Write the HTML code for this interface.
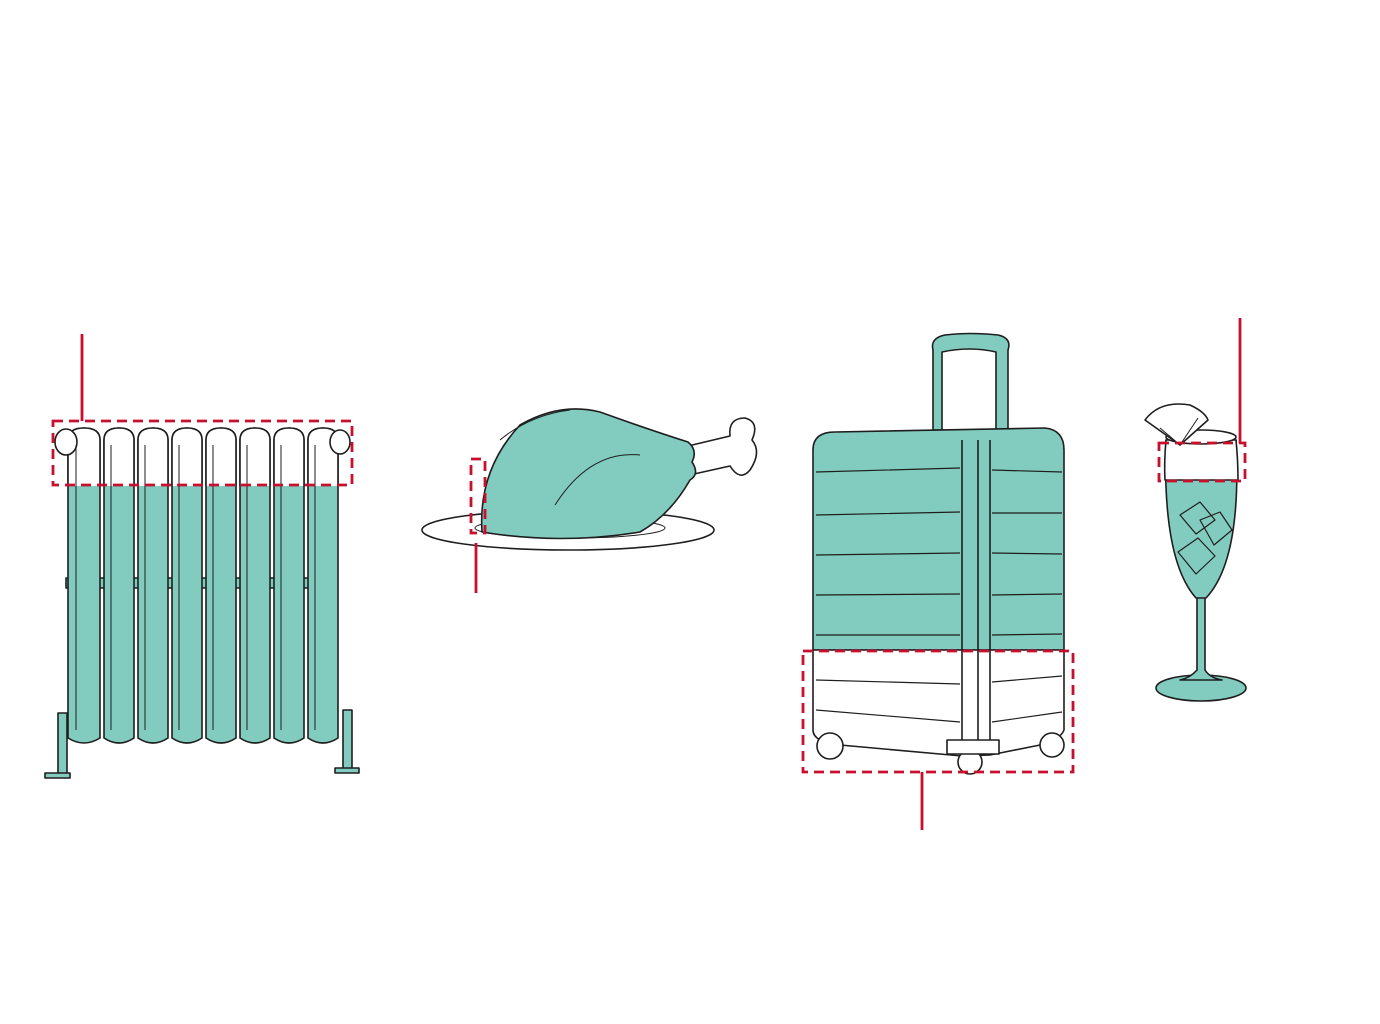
<!DOCTYPE html>
<html><head><meta charset="utf-8"><style>
html,body{margin:0;padding:0;background:#fff;}
svg{display:block;}
</style></head><body>
<svg width="1380" height="1024" viewBox="0 0 1380 1024" xmlns="http://www.w3.org/2000/svg">
<defs>
<clipPath id="radTop"><rect x="0" y="0" width="1380" height="486"/></clipPath>
</defs>
<g stroke="#1e1e1e" stroke-width="1.6" stroke-linejoin="round">
<!-- Radiator -->
<rect x="58" y="713" width="9" height="62" fill="#82cbbf"/>
<rect x="45" y="773" width="25" height="5" fill="#82cbbf"/>
<rect x="343" y="710" width="9" height="60" fill="#82cbbf"/>
<rect x="335" y="768" width="24" height="5" fill="#82cbbf"/>
<rect x="66" y="578" width="270" height="10" fill="#82cbbf"/>
<g fill="#82cbbf">
<path d="M68 440 Q68 428 84 428 Q100 428 100 440 L100 738 Q84 748 68 738 Z"/>
<path d="M104 440 Q104 428 119 428 Q134 428 134 440 L134 738 Q119 748 104 738 Z"/>
<path d="M138 440 Q138 428 153 428 Q168 428 168 440 L168 738 Q153 748 138 738 Z"/>
<path d="M172 440 Q172 428 187 428 Q202 428 202 440 L202 738 Q187 748 172 738 Z"/>
<path d="M206 440 Q206 428 221 428 Q236 428 236 440 L236 738 Q221 748 206 738 Z"/>
<path d="M240 440 Q240 428 255 428 Q270 428 270 440 L270 738 Q255 748 240 738 Z"/>
<path d="M274 440 Q274 428 289 428 Q304 428 304 440 L304 738 Q289 748 274 738 Z"/>
<path d="M308 440 Q308 428 323 428 Q338 428 338 440 L338 738 Q323 748 308 738 Z"/>
</g>
<g fill="#fff" clip-path="url(#radTop)">
<path d="M68 440 Q68 428 84 428 Q100 428 100 440 L100 738 L68 738 Z"/>
<path d="M104 440 Q104 428 119 428 Q134 428 134 440 L134 738 L104 738 Z"/>
<path d="M138 440 Q138 428 153 428 Q168 428 168 440 L168 738 L138 738 Z"/>
<path d="M172 440 Q172 428 187 428 Q202 428 202 440 L202 738 L172 738 Z"/>
<path d="M206 440 Q206 428 221 428 Q236 428 236 440 L236 738 L206 738 Z"/>
<path d="M240 440 Q240 428 255 428 Q270 428 270 440 L270 738 L240 738 Z"/>
<path d="M274 440 Q274 428 289 428 Q304 428 304 440 L304 738 L274 738 Z"/>
<path d="M308 440 Q308 428 323 428 Q338 428 338 440 L338 738 L308 738 Z"/>
<ellipse cx="66" cy="442" rx="11" ry="13"/>
<ellipse cx="340" cy="442" rx="10" ry="12"/>
</g>
<g fill="none" stroke-width="1">
<path d="M76 445 L76 730 M111 445 L111 730 M145 445 L145 730 M179 445 L179 730 M213 445 L213 730 M247 445 L247 730 M281 445 L281 730 M315 445 L315 730"/>
</g>
<!-- Turkey plate -->
<ellipse cx="568" cy="530" rx="146" ry="20" fill="#fff"/>
<ellipse cx="570" cy="528" rx="95" ry="10" fill="#fff" stroke-width="1"/>
<path d="M688 446 L730 436 Q728 418 745 418 Q760 422 752 440 Q762 452 750 470 Q740 482 730 466 L694 474 Z" fill="#fff"/>
<path d="M482 532 Q478 470 520 425 Q560 402 600 412 Q650 430 688 442 Q698 450 692 462 Q700 474 690 480 Q670 515 640 532 Q560 545 482 532 Z" fill="#82cbbf"/>
<path d="M555 505 Q590 450 640 455" fill="none" stroke-width="1"/>
<path d="M500 440 Q530 415 570 410" fill="none" stroke-width="1"/>
<!-- Suitcase -->
<path d="M933 430 L933 350 Q930 338 945 335 Q970 332 998 335 Q1012 338 1008 350 L1008 430 L996 430 L996 352 Q970 346 942 352 L942 430 Z" fill="#82cbbf"/>
<path d="M813 450 Q813 432 835 432 L1045 428 Q1064 430 1064 450 L1064 650 L813 650 Z" fill="#82cbbf"/>
<path d="M813 650 L1064 650 L1064 730 Q1060 740 1040 745 L990 755 L962 756 L840 745 Q813 742 813 730 Z" fill="#fff"/>
<path d="M962 440 L962 756 M978 440 L978 756 M990 440 L990 755" fill="none"/>
<g fill="none" stroke-width="1.2">
<path d="M816 472 L960 468 M816 515 L960 512 M816 555 L960 553 M816 595 L960 594 M816 635 L960 635 M816 680 L960 684 M816 710 L960 722"/>
<path d="M992 470 L1062 472 M992 513 L1062 513 M992 553 L1062 554 M992 595 L1062 594 M992 635 L1062 634 M992 682 L1062 676 M992 722 L1062 712"/>
</g>
<circle cx="830" cy="746" r="13" fill="#fff"/>
<circle cx="970" cy="762" r="12" fill="#fff"/>
<circle cx="1052" cy="745" r="12" fill="#fff"/>
<rect x="947" y="740" width="52" height="14" fill="#fff"/>
<!-- Glass -->
<ellipse cx="1201" cy="688" rx="45" ry="13" fill="#82cbbf"/>
<path d="M1197 595 L1197 670 Q1190 678 1180 680 L1222 680 Q1210 678 1205 670 L1205 595 Z" fill="#82cbbf"/>
<path d="M1166 440 Q1162 560 1196 598 L1206 598 Q1242 560 1236 440 Z" fill="#82cbbf"/>
<path d="M1166 440 Q1164 462 1165 480 L1238 480 Q1238 460 1236 440 Z" fill="#fff"/>
<ellipse cx="1201" cy="437" rx="35" ry="7" fill="#fff"/>
<path d="M1180 515 L1200 502 L1215 520 L1196 534 Z M1178 552 L1198 538 L1215 556 L1196 574 Z M1200 520 L1220 512 L1232 530 L1214 545 Z" fill="#82cbbf" stroke-width="1.2"/>
<path d="M1145 420 Q1160 400 1190 405 Q1205 412 1208 420 L1180 445 Z" fill="#fff"/>
<path d="M1160 428 L1180 445 L1198 418" fill="none" stroke-width="1"/>
</g>
<!-- Red annotations -->
<g fill="none" stroke="#c8102e" stroke-width="2.8">
<g stroke-dasharray="10 6">
<rect x="53" y="421" width="299" height="64"/>
<rect x="471" y="459" width="14" height="74"/>
<rect x="803" y="651" width="270" height="121"/>
<rect x="1159" y="443" width="86" height="38"/>
</g>
<path d="M82 334 L82 421 M476 543 L476 593 M922 772 L922 830 M1240 318 L1240 443"/>
</g>
</svg>
</body></html>
